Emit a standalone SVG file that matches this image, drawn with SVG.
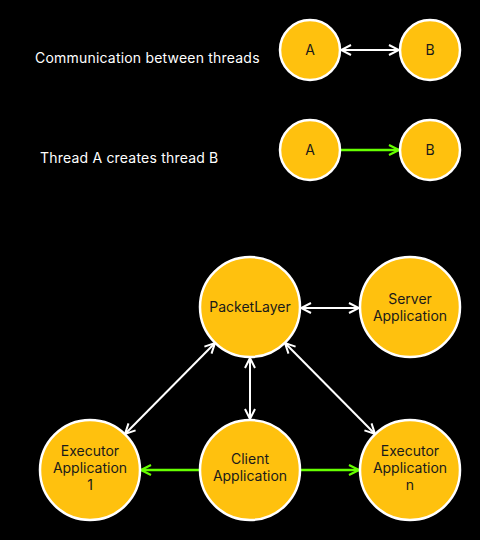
<svg xmlns="http://www.w3.org/2000/svg" width="480" height="540" viewBox="0 0 480 540">
<defs>
<style>
.node{fill:#FFC10E;stroke:#FFFFFF;stroke-width:2.5}
.lbl{font-family:Inter,"Liberation Sans",sans-serif;font-size:14px;fill:#1a1a1a;text-anchor:middle}
.cap{font-family:Inter,"Liberation Sans",sans-serif;font-size:14px;fill:#FFFFFF;letter-spacing:0.2px}
.w{stroke:#FFFFFF;stroke-width:2;fill:none}
.g{stroke:#66FF00;stroke-width:2.5;fill:none}
</style>
<marker id="aw" viewBox="0 0 12 12" refX="11" refY="6" markerWidth="12" markerHeight="12" markerUnits="userSpaceOnUse" orient="auto-start-reverse">
<path d="M1,1 L11,6 L1,11" fill="none" stroke="#FFFFFF" stroke-width="2"/>
</marker>
<marker id="ag" viewBox="0 0 12 12" refX="11" refY="6" markerWidth="12" markerHeight="12" markerUnits="userSpaceOnUse" orient="auto-start-reverse">
<path d="M1,1 L11,6 L1,11" fill="none" stroke="#66FF00" stroke-width="2.2"/>
</marker>
</defs>
<rect width="480" height="540" fill="#000000"/>
<text class="cap" x="35" y="63">Communication between threads</text>
<text class="cap" x="40" y="163">Thread A creates thread B</text>
<g id="connectors">
<line class="w" x1="341" y1="50" x2="399" y2="50" marker-start="url(#aw)" marker-end="url(#aw)"/>
<line class="g" x1="341" y1="150" x2="399" y2="150" marker-end="url(#ag)"/>
<line class="w" x1="301" y1="308" x2="359" y2="308" marker-start="url(#aw)" marker-end="url(#aw)"/>
<line class="w" x1="250" y1="358" x2="250" y2="419" marker-start="url(#aw)" marker-end="url(#aw)"/>
<line class="w" x1="215" y1="343" x2="125" y2="434" marker-start="url(#aw)" marker-end="url(#aw)"/>
<line class="w" x1="285" y1="343" x2="375" y2="434" marker-start="url(#aw)" marker-end="url(#aw)"/>
<line class="g" x1="200" y1="470" x2="141" y2="470" marker-end="url(#ag)"/>
<line class="g" x1="300" y1="470" x2="359" y2="470" marker-end="url(#ag)"/>
</g>
<g id="a1"><circle class="node" cx="310" cy="50" r="30"/><text class="lbl" x="310" y="55">A</text></g>
<g id="b1"><circle class="node" cx="430" cy="50" r="30"/><text class="lbl" x="430" y="55">B</text></g>
<g id="a2"><circle class="node" cx="310" cy="150" r="30"/><text class="lbl" x="310" y="155">A</text></g>
<g id="b2"><circle class="node" cx="430" cy="150" r="30"/><text class="lbl" x="430" y="155">B</text></g>
<g id="packetlayer"><circle class="node" cx="250" cy="307" r="50"/><text class="lbl" x="250" y="312">PacketLayer</text></g>
<g id="server"><circle class="node" cx="410" cy="307" r="50"/><text class="lbl" x="410" y="304">Server</text><text class="lbl" x="410" y="321">Application</text></g>
<g id="executor1"><circle class="node" cx="90" cy="470" r="50"/><text class="lbl" x="90" y="456">Executor</text><text class="lbl" x="90" y="473">Application</text><text class="lbl" x="90" y="490">1</text></g>
<g id="client"><circle class="node" cx="250" cy="470" r="50"/><text class="lbl" x="250" y="464">Client</text><text class="lbl" x="250" y="481">Application</text></g>
<g id="executorn"><circle class="node" cx="410" cy="470" r="50"/><text class="lbl" x="410" y="456">Executor</text><text class="lbl" x="410" y="473">Application</text><text class="lbl" x="410" y="490">n</text></g>
</svg>
